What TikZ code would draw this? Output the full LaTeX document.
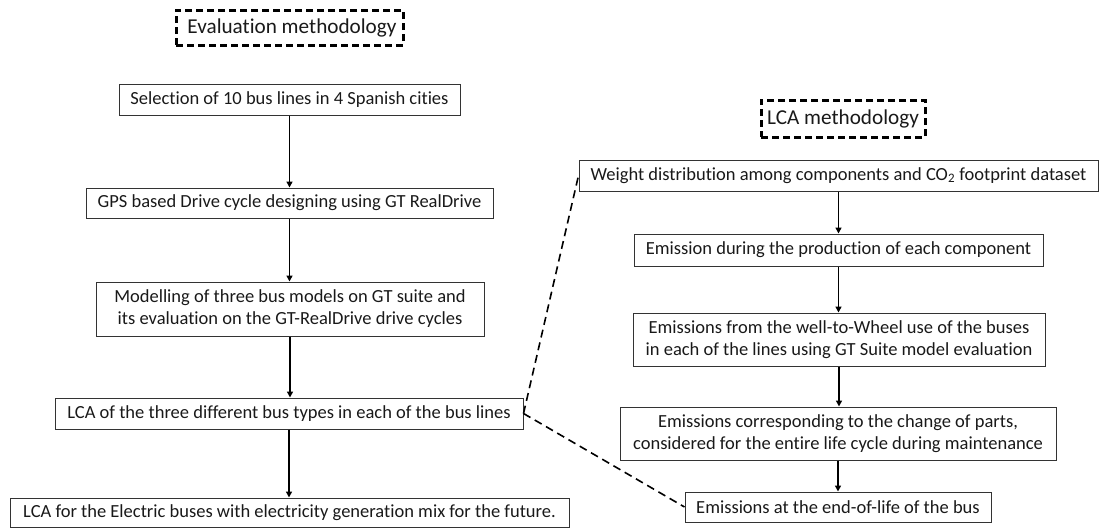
\documentclass[tikz,border=0pt]{standalone}
\usepackage{fontspec}
\setmainfont[Ligatures=NoCommon]{Carlito}
\usetikzlibrary{arrows.meta}
\begin{document}
\begin{tikzpicture}[x=1pt,y=-1pt,
  box/.style={draw=black!80, line width=1pt, inner sep=0pt, align=center,
    font=\fontsize{18.5}{22}\selectfont, text=black!90},
  titlebox/.style={draw=black, line width=3pt, dash pattern=on 7pt off 4pt,
    inner sep=0pt, font=\fontsize{21.2}{25}\selectfont, text=black!90},
  flow/.style={line width=1.6pt, -{Triangle[length=6pt,width=6pt]}},
  link/.style={line width=1.6pt, dash pattern=on 8pt off 5pt},
  sz/.style 2 args={minimum width=#1pt, minimum height=#2pt}]
\useasboundingbox (0,0) rectangle (1100,528);
% left column
\node[titlebox, sz={227}{35}] (evt) at (289.5,27.5) {\hspace{5pt}Evaluation methodology};
\node[box, sz={341}{31}] (b1) at (289.5,99.5) {Selection of 10 bus lines in 4 Spanish cities};
\node[box, sz={407}{30}] (b2) at (289.5,203) {GPS based Drive cycle designing using GT RealDrive};
\node[box, sz={388}{54}] (b3) at (290,309) {Modelling of three bus models on GT suite and\\its evaluation on the GT-RealDrive drive cycles};
\node[box, sz={468}{31}] (b4) at (289,413.5) {LCA of the three different bus types in each of the bus lines};
\node[box, sz={559}{29}] (b5) at (289.5,512.5) {LCA for the Electric buses with electricity generation mix for the future.};
% right column
\node[titlebox, sz={164}{37}] (lct) at (843,118.5) {LCA methodology};
\node[box, sz={519}{31}] (w) at (838.5,175.5) {Weight distribution among components and CO\textsubscript{2} footprint dataset};
\node[box, sz={409}{32}] (e1) at (838.5,250) {Emission during the production of each component};
\node[box, sz={412}{53}] (e2) at (839,339.5) {Emissions from the well-to-Wheel use of the buses\\in each of the lines using GT Suite model evaluation};
\node[box, sz={436}{53}] (e3) at (838,433.5) {Emissions corresponding to the change of parts,\\considered for the entire life cycle during maintenance};
\node[box, sz={306}{30}] (e4) at (838,507) {Emissions at the end-of-life of the bus};
% flow arrows
\draw[flow] (b1.south) -- (b1.south |- b2.north);
\draw[flow] (b2.south) -- (b2.south |- b3.north);
\draw[flow] (b3.south) -- (b3.south |- b4.north);
\draw[flow] (b4.south) -- (b4.south |- b5.north);
\draw[flow] (w.south) -- (w.south |- e1.north);
\draw[flow] (e1.south) -- (e1.south |- e2.north);
\draw[flow] (e2.south) -- (e2.south |- e3.north);
\draw[flow] (e3.south) -- (e3.south |- e4.north);
% dashed links
\draw[link] (b4.east) -- (w.west);
\draw[link] (b4.east) -- (e4.west);
\end{tikzpicture}
\end{document}
